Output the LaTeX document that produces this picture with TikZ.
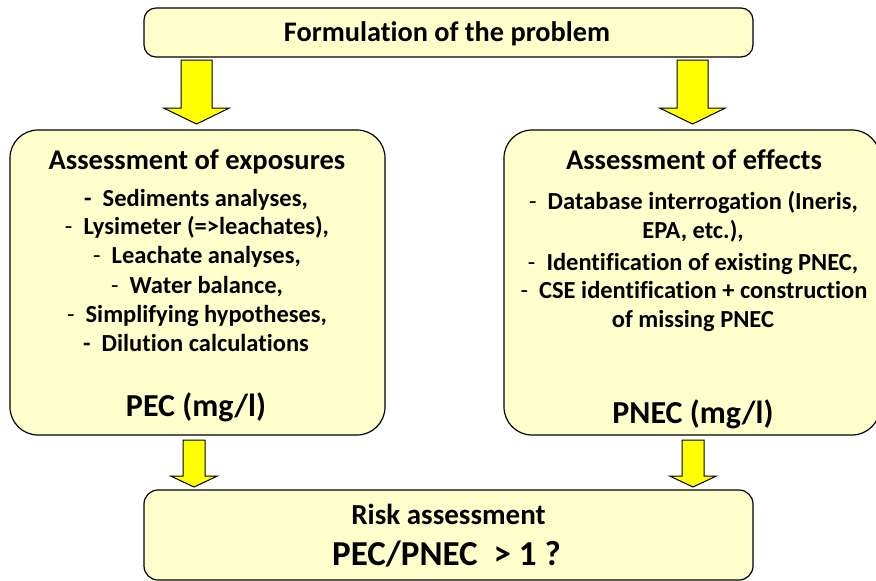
\documentclass[tikz,border=0pt]{standalone}
\usepackage{fontspec}
\setmainfont[Ligatures={NoCommon}]{Carlito}
\usetikzlibrary{calc}
\definecolor{boxfill}{HTML}{FFFFCC}
\definecolor{arrowfill}{HTML}{FFFF00}
\tikzset{
  panel/.style={draw=black, line width=1.2pt, fill=boxfill, inner sep=0pt},
  blockarrow/.style={draw=black, line width=1pt, fill=arrowfill, line join=miter},
  txt/.style={font=\bfseries, anchor=base, inner sep=0pt},
  sz/.style={font=\bfseries\fontsize{#1}{#1}\selectfont},
}
% block arrow: #1 start, #2 tip, #3 half shaft width, #4 half head width, #5 head length
\newcommand\blockarr[5]{%
  \draw[blockarrow] ($(#1)+(-#3,0)$) -- ($(#2)+(-#3,-#5)$) -- ($(#2)+(-#4,-#5)$)
    -- (#2) -- ($(#2)+(#4,-#5)$) -- ($(#2)+(#3,-#5)$) -- ($(#1)+(#3,0)$) -- cycle;}
\begin{document}
\begin{tikzpicture}[x=1pt,y=-1pt]
\useasboundingbox (0,0) rectangle (876,581);

% panels
\node[panel, rounded corners=12pt, minimum width=609pt, minimum height=49pt] (prob) at (448.5,32.5) {};
\node[panel, rounded corners=28pt, minimum width=375pt, minimum height=305pt] (expo) at (197.5,282.5) {};
\node[panel, rounded corners=28pt, minimum width=376pt, minimum height=305pt] (effe) at (692,282.5) {};
\node[panel, rounded corners=14pt, minimum width=609pt, minimum height=90pt] (risk) at (448.5,535) {};

% arrows between the panels
\coordinate (a1s) at (196.5,60);  \coordinate (a1e) at (196.5,124);
\coordinate (a2s) at (692.5,60);  \coordinate (a2e) at (692.5,124);
\coordinate (a3s) at (194,440);   \coordinate (a3e) at (194,487);
\coordinate (a4s) at (693,440);   \coordinate (a4e) at (693,487);
\blockarr{a1s}{a1e}{15.5}{33}{16}
\blockarr{a2s}{a2e}{15.5}{33}{16}
\blockarr{a3s}{a3e}{11}{23.5}{11}
\blockarr{a4s}{a4e}{11}{23.5}{11}

% problem statement
\node[txt, sz=28.3] (probt) at (447,41) {Formulation of the problem};

% exposures
\node[txt, sz=28.5] (expt) at (197,169) {Assessment of exposures};
\node[txt, sz=24.5] (e1) at (196,206) {-\ \ Sediments analyses,};
\node[txt, sz=24.5] (e2) at (197,234) {{\mdseries -}\ \ Lysimeter (=>leachates),};
\node[txt, sz=24.5] (e3) at (197,263) {{\mdseries -}\ \ Leachate analyses,};
\node[txt, sz=24.5] (e4) at (197,293) {{\mdseries -}\ \ Water balance,};
\node[txt, sz=24.5] (e5) at (197,322) {{\mdseries -}\ \ Simplifying hypotheses,};
\node[txt, sz=24.5] (e6) at (196,351) {-\ \ Dilution calculations};
\node[txt, sz=32] (pec) at (196,416) {PEC (mg/l)};

% effects
\node[txt, sz=28.5] (efft) at (694,169) {Assessment of effects};
\node[txt, sz=24.5] (f1) at (693.5,209) {{\mdseries -}\ \ Database interrogation (Ineris,};
\node[txt, sz=24.5] (f2) at (693,238) {EPA, etc.),};
\node[txt, sz=24.5] (f3) at (693,270) {{\mdseries -}\ \ Identification of existing PNEC,};
\node[txt, sz=24.5] (f4) at (694,298) {{\mdseries -}\ \ CSE identification + construction};
\node[txt, sz=24.5] (f5) at (693,327) {of missing PNEC};
\node[txt, sz=32] (pnec) at (693,423) {PNEC (mg/l)};

% risk
\node[txt, sz=29] (riskt) at (448.5,524) {Risk assessment};
\node[txt, sz=35] (ratio) at (446.5,565) {PEC/PNEC \ > 1 ?};
\end{tikzpicture}
\end{document}
